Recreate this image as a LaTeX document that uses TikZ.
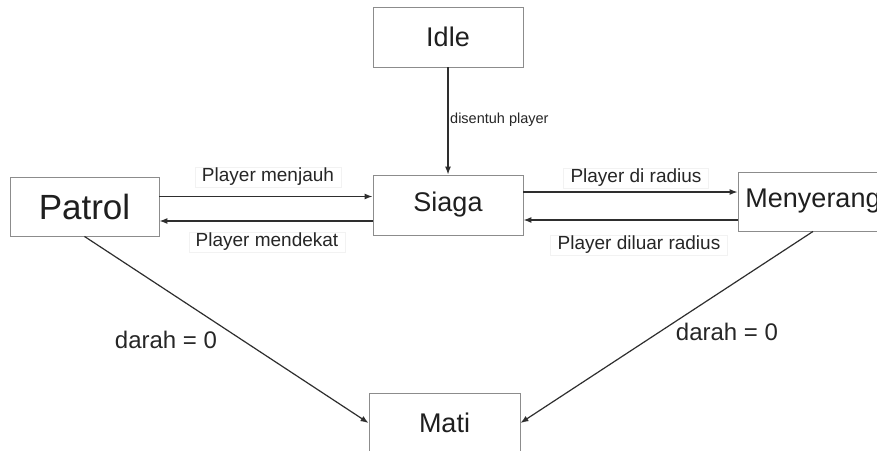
\documentclass[tikz,border=0pt]{standalone}
\usepackage{fontspec}
\setmainfont{Liberation Sans}
\usetikzlibrary{arrows.meta,calc}
\begin{document}
\begin{tikzpicture}[x=1pt,y=-1pt,
  statebox/.style={draw=black!45,line width=0.9pt,fill=white,rectangle,inner sep=0pt,text=black!88},
  conn/.style={draw=black!82,line width=1.2pt,-{Latex[length=8pt,width=6pt]}},
  lbl/.style={font=\fontsize{19}{21}\selectfont,text=black!85,draw=black!5,fill=white,inner xsep=7pt,inner ysep=1pt},
  big/.style={font=\fontsize{27}{30}\selectfont},
  small/.style={font=\fontsize{14.5}{16}\selectfont,text=black!85,inner sep=0pt,anchor=west}]
\useasboundingbox (0,0) rectangle (877,450);
\clip (0,0) rectangle (877,450);
\fill[white] (0,0) rectangle (877,450);

\node[statebox,big,minimum width=150pt,minimum height=60pt] (idle) at (448,37) {Idle};
\node[statebox,big,minimum width=150pt,minimum height=60pt] (siaga) at (448,205) {Siaga};
\node[statebox,font=\fontsize{35}{38}\selectfont,minimum width=149pt,minimum height=59pt] (patrol) at (84.5,206.5) {Patrol};
\node[statebox,big,minimum width=150pt,minimum height=59pt] (menyerang) at (813,201.5) {Menyerang};
\node[statebox,big,minimum width=151pt,minimum height=60pt] (mati) at (444.5,423) {Mati};

\draw[conn] (idle.south) -- (siaga.north);
\node[small] (lidle) at (450,120) {disentuh player};

\draw[conn] ([yshift=10pt]patrol.east) -- ([yshift=10pt]patrol.east -| siaga.west);
\draw[conn] ([yshift=-16pt]siaga.west) -- ([yshift=-16pt]siaga.west -| patrol.east);
\draw[conn] ([yshift=13pt]siaga.east) -- ([yshift=13pt]siaga.east -| menyerang.west);
\draw[conn] ([yshift=-15pt]siaga.east -| menyerang.west) -- ([yshift=-15pt]siaga.east);

\node[lbl] (l1) at (268,177) {Player menjauh};
\node[lbl] (l2) at (267,242) {Player mendekat};
\node[lbl] (l3) at (636,178) {Player di radius};
\node[lbl] (l4) at (639,245) {Player diluar radius};

\draw[conn] (patrol.south) -- (mati.west);
\draw[conn] (menyerang.south) -- (mati.east);
\node[font=\fontsize{24}{26}\selectfont,text=black!85,inner sep=0pt] (d1) at (166,340) {darah = 0};
\node[font=\fontsize{24}{26}\selectfont,text=black!85,inner sep=0pt] (d2) at (727,332) {darah = 0};
\end{tikzpicture}
\end{document}
